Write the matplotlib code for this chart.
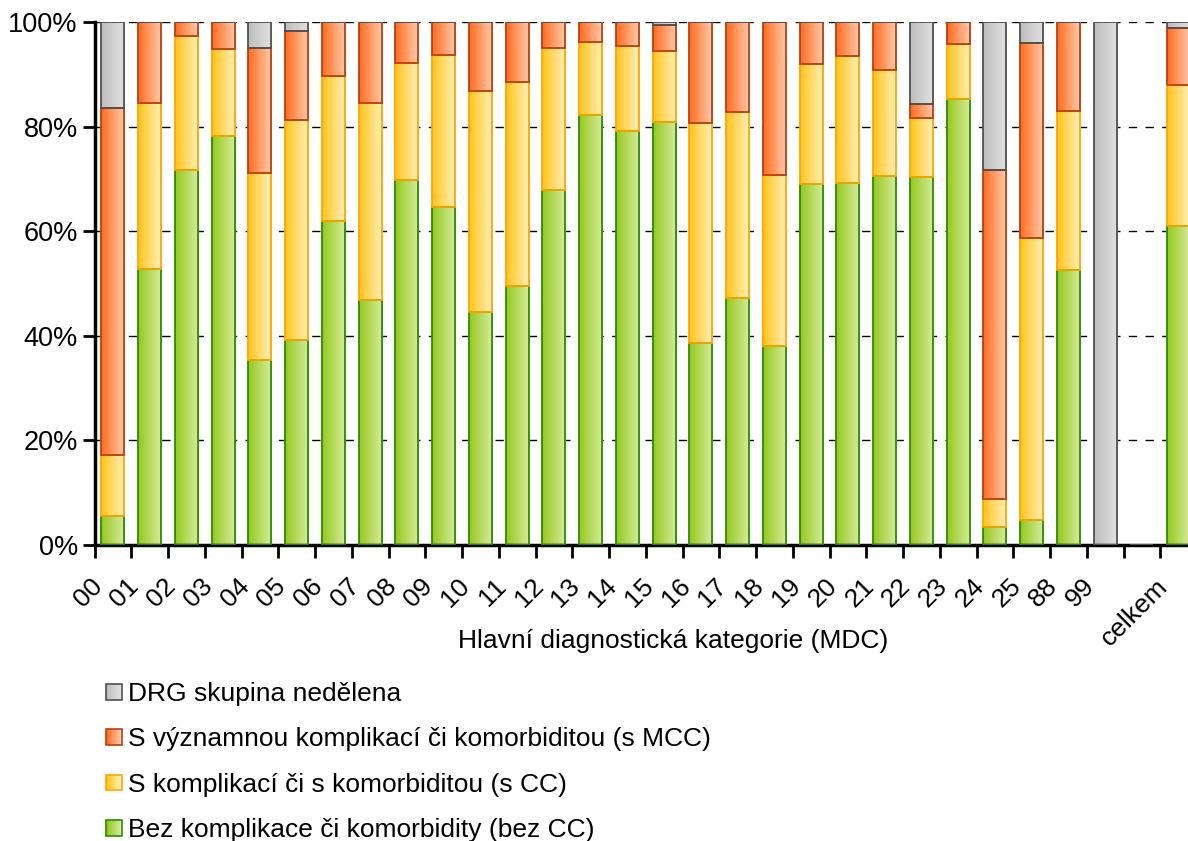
import numpy as np
import matplotlib
matplotlib.use("Agg")
import matplotlib.pyplot as plt
from matplotlib.colors import LinearSegmentedColormap, to_rgb
from matplotlib.patches import Rectangle
from matplotlib.legend_handler import HandlerBase
from matplotlib.transforms import ScaledTranslation

plt.rcParams['font.family'] = ['Liberation Sans', 'DejaVu Sans']

categories = ["00", "01", "02", "03", "04", "05", "06", "07", "08", "09", "10",
              "11", "12", "13", "14", "15", "16", "17", "18", "19", "20", "21",
              "22", "23", "24", "25", "88", "99", "", "celkem"]

# cumulative tops (percent); None for the empty slot
green_top = [5.6, 52.8, 71.7, 78.2, 35.4, 39.2, 62.0, 46.8, 69.7, 64.6, 44.5,
             49.5, 67.8, 82.3, 79.2, 80.8, 38.6, 47.3, 38.1, 69.1, 69.2, 70.5,
             70.3, 85.3, 3.4, 4.8, 52.5, 0.0, None, 60.9]
yellow_top = [17.3, 84.6, 97.4, 94.8, 71.2, 81.3, 89.6, 84.5, 92.2, 93.7, 86.8,
              88.5, 95.0, 96.1, 95.5, 94.4, 80.6, 82.7, 70.7, 91.9, 93.5, 90.9,
              81.6, 95.7, 8.7, 58.7, 82.9, 0.0, None, 87.9]
orange_top = [83.6, 100, 100, 100, 95.1, 98.2, 100, 100, 100, 100, 100,
              100, 100, 100, 100, 99.5, 100, 100, 100, 100, 100, 100,
              84.3, 100, 71.7, 95.9, 100, 0.0, None, 98.9]

series_names = ["Bez komplikace či komorbidity (bez CC)",
                "S komplikací či s komorbiditou (s CC)",
                "S významnou komplikací či komorbiditou (s MCC)",
                "DRG skupina nedělena"]

def vals(a):
    return np.array([np.nan if v is None else v for v in a], dtype=float)

g = vals(green_top)
y = vals(yellow_top)
o = vals(orange_top)
tot = np.where(np.isnan(g), np.nan, 100.0)
green = g
yellow = y - g
orange = o - y
grey = tot - o

styles = [
    dict(c1="#94c81c", c2="#d9eca0", edge="#2a8c00"),
    dict(c1="#ffc41a", c2="#fff2bf", edge="#ffa500"),
    dict(c1="#ff6a1e", c2="#ffcdb0", edge="#b8400f"),
    dict(c1="#bdbdbd", c2="#e2e2e2", edge="#505050"),
]


class GradientHandle:
    def __init__(self, st):
        self.st = st


class HandlerGradient(HandlerBase):
    def create_artists(self, legend, orig_handle, xdescent, ydescent,
                       width, height, fontsize, trans):
        st = orig_handle.st
        c1 = np.array(to_rgb(st["c1"]))
        c2 = np.array(to_rgb(st["c2"]))
        side = min(width, height)
        x0 = -xdescent
        y0 = -ydescent + (height - side) / 2
        n = 10
        arts = []
        for i in range(n):
            t = i / (n - 1)
            c = c1 * (1 - t) + c2 * t
            r = Rectangle((x0 + side * i / n, y0), side / n + 0.3, side,
                          facecolor=c, edgecolor='none', transform=trans)
            arts.append(r)
        arts.append(Rectangle((x0, y0), side, side, facecolor='none',
                              edgecolor=st["edge"], linewidth=1.2,
                              transform=trans))
        return arts


fig = plt.figure(figsize=(11.88, 8.41), dpi=100)
left_px, slot_px = 94.5, 36.75
ax = fig.add_axes([left_px/1188, 1-545/841, (30*slot_px)/1188, (545-22)/841])

x = np.arange(len(categories))
width = 0.63
bottom = np.zeros(len(categories))
series = [green, yellow, orange, grey]
for s, st in zip(series, styles):
    h = np.nan_to_num(s)
    bars = ax.bar(x, h, width, bottom=bottom, facecolor='none',
                  edgecolor=st["edge"], linewidth=1.3, zorder=3)
    cmap = LinearSegmentedColormap.from_list("g", [st["c1"], st["c2"]])
    grad = np.linspace(0, 1, 256).reshape(1, -1)
    for b in bars:
        if b.get_height() <= 0:
            continue
        x0, y0 = b.get_x(), b.get_y()
        w, hh = b.get_width(), b.get_height()
        im = ax.imshow(grad, cmap=cmap, extent=[x0, x0 + w, y0, y0 + hh],
                       aspect='auto', interpolation='bilinear', zorder=2)
        im.set_clip_path(b)
    bottom = bottom + h

ax.set_xlim(-0.5, len(categories) - 0.5)
ax.set_ylim(0, 100)
ax.set_yticks([0, 20, 40, 60, 80, 100])
ax.set_yticklabels(["0%", "20%", "40%", "60%", "80%", "100%"], fontsize=19.5)
ax.yaxis.grid(True, linestyle=(0, (6, 6)), color='black', linewidth=1, zorder=1)
ax.set_axisbelow(True)

ax.set_xticks(np.arange(len(categories) + 1) - 0.5)
ax.set_xticklabels([])
ax.set_xticks(x, minor=True)
ax.set_xticklabels(categories, minor=True, rotation=45, ha='right',
                   rotation_mode='anchor', fontsize=19)
ax.tick_params(axis='x', which='minor', length=0, pad=21)
ax.tick_params(axis='x', which='major', length=9, width=2, direction='out')
ax.tick_params(axis='y', length=9, width=2, direction='out', pad=3)
shift = ScaledTranslation(-23/100, 0, fig.dpi_scale_trans)
for lab in ax.get_xticklabels(minor=True):
    lab.set_transform(lab.get_transform() + shift)
for sp in ['top', 'right']:
    ax.spines[sp].set_visible(False)
for sp in ['left', 'bottom']:
    ax.spines[sp].set_linewidth(2.5)

fig.text(673/1188, 1-641/841, "Hlavní diagnostická kategorie (MDC)",
         ha='center', va='center', fontsize=19)

handles = [GradientHandle(st) for st in styles]
leg = fig.legend(handles[::-1], series_names[::-1], loc='upper left',
                 bbox_to_anchor=(106/1188, 1-682/841), frameon=False,
                 fontsize=19, labelspacing=0.81, handlelength=0.6,
                 handleheight=0.6, handletextpad=0.25, borderaxespad=0,
                 borderpad=0,
                 handler_map={GradientHandle: HandlerGradient()})

fig.savefig("out.png", dpi=100)
